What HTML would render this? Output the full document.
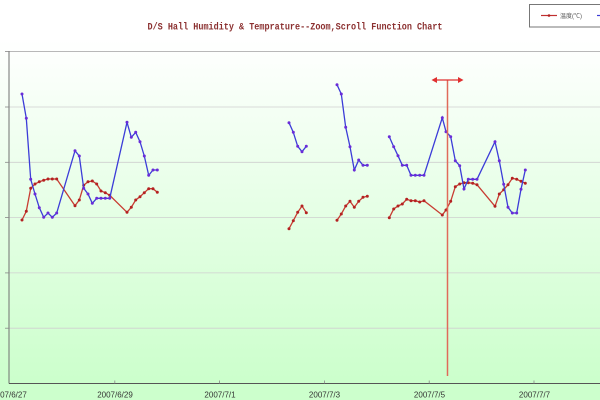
<!DOCTYPE html>
<html><head><meta charset="utf-8"><style>
html,body{margin:0;padding:0;width:600px;height:400px;overflow:hidden;background:#fff}
svg{display:block}
</style></head><body>
<svg width="600" height="400" viewBox="0 0 600 400" xmlns="http://www.w3.org/2000/svg">
<defs>
<linearGradient id="bg" x1="0" y1="0" x2="0" y2="400" gradientUnits="userSpaceOnUse">
<stop offset="0.1" stop-color="#ffffff"/>
<stop offset="0.95" stop-color="#ccffcc"/>
<stop offset="1" stop-color="#ccffcc"/>
</linearGradient>
</defs>
<rect x="0" y="0" width="600" height="400" fill="url(#bg)"/>
<!-- title -->
<text x="147.5" y="29.5" font-family="Liberation Mono, monospace" font-weight="bold" font-size="10.5" fill="#8b3030" textLength="295" lengthAdjust="spacingAndGlyphs">D/S Hall Humidity &amp; Temprature--Zoom,Scroll Function Chart</text>
<!-- legend -->
<rect x="529.5" y="4.5" width="80" height="22.5" fill="#fff" stroke="#777" stroke-width="1"/>
<line x1="541" y1="15.5" x2="557" y2="15.5" stroke="#c03030" stroke-width="1.2"/>
<circle cx="549" cy="15.5" r="1.3" fill="#b02020"/>
<text x="560" y="18" font-family="Liberation Sans, 'Noto Sans CJK SC', sans-serif" font-size="6" fill="#555">温度(℃)</text>
<line x1="597" y1="15.5" x2="600" y2="15.5" stroke="#3b3bd6" stroke-width="1.2"/>
<!-- grid -->
<line x1="9" y1="51.5" x2="600" y2="51.5" stroke="#b8b8b8" stroke-width="1"/>
<g stroke="#cfcfcf" stroke-width="0.8">
<line x1="9" y1="107" x2="600" y2="107"/>
<line x1="9" y1="162.3" x2="600" y2="162.3"/>
<line x1="9" y1="217.6" x2="600" y2="217.6"/>
<line x1="9" y1="272.9" x2="600" y2="272.9"/>
<line x1="9" y1="328.2" x2="600" y2="328.2"/>
</g>
<!-- axes -->
<line x1="9" y1="51" x2="9" y2="383.5" stroke="#707070" stroke-width="1"/>
<line x1="9" y1="383.5" x2="600" y2="383.5" stroke="#555" stroke-width="1"/>
<g stroke="#888" stroke-width="0.8">
<line x1="5" y1="51.5" x2="9" y2="51.5"/><line x1="5" y1="107" x2="9" y2="107"/><line x1="5" y1="162.3" x2="9" y2="162.3"/><line x1="5" y1="217.6" x2="9" y2="217.6"/><line x1="5" y1="272.9" x2="9" y2="272.9"/><line x1="5" y1="328.2" x2="9" y2="328.2"/>
<line x1="114.8" y1="380.5" x2="114.8" y2="383.5"/><line x1="219.6" y1="380.5" x2="219.6" y2="383.5"/><line x1="324.4" y1="380.5" x2="324.4" y2="383.5"/><line x1="429.2" y1="380.5" x2="429.2" y2="383.5"/><line x1="534" y1="380.5" x2="534" y2="383.5"/>
</g>
<g font-family="Liberation Sans, sans-serif" font-size="8" fill="#333" text-anchor="middle">
<text x="9" y="397.5">2007/6/27</text>
<text x="115" y="397.5">2007/6/29</text>
<text x="220" y="397.5">2007/7/1</text>
<text x="324.5" y="397.5">2007/7/3</text>
<text x="429.5" y="397.5">2007/7/5</text>
<text x="534.5" y="397.5">2007/7/7</text>
</g>
<!-- red series -->
<g fill="none" stroke="#c83c32" stroke-width="1.3">
<polyline points="22,220 26.3,211.3 30.7,188.3 35,184 39.3,181.7 43.7,180.3 48,179 52.3,179 56.7,179 75,205.7 79.3,200 83.7,185.3 88,181.7 92.3,181 96.7,184 101,191 105.3,192.7 109.7,195.3 127,212.3 131.3,207.3 135.7,200 140,196.7 144.3,192.7 148.7,188.7 153,188.7 157.3,192.3"/>
<polyline points="289,228.7 293.3,220.7 297.7,212.3 302,206 306.3,212.7"/>
<polyline points="337,220.3 341.3,214 345.7,206 350,201.3 354.3,207.3 358.7,201.3 363,197.3 367.3,196.3"/>
<polyline points="389.3,217.7 393.7,209 398,206 402.3,204 406.7,199.3 411,200.7 415.3,200.7 419.7,202 424,200.7 442.3,215 446,210 450.7,201.3 455.3,186.7 459.7,184 464,182.7 468.3,182.7 472.7,183.3 477,184.7 495,206.3 499.3,194 503.7,189.7 508,184.7 512.3,178.3 516.7,179.3 521,181.3 525.3,183.3"/>
</g>
<g fill="#b42222">
<circle cx="22" cy="220" r="1.5"/><circle cx="26.3" cy="211.3" r="1.5"/><circle cx="30.7" cy="188.3" r="1.5"/><circle cx="35" cy="184" r="1.5"/><circle cx="39.3" cy="181.7" r="1.5"/><circle cx="43.7" cy="180.3" r="1.5"/><circle cx="48" cy="179" r="1.5"/><circle cx="52.3" cy="179" r="1.5"/><circle cx="56.7" cy="179" r="1.5"/><circle cx="75" cy="205.7" r="1.5"/><circle cx="79.3" cy="200" r="1.5"/><circle cx="83.7" cy="185.3" r="1.5"/><circle cx="88" cy="181.7" r="1.5"/><circle cx="92.3" cy="181" r="1.5"/><circle cx="96.7" cy="184" r="1.5"/><circle cx="101" cy="191" r="1.5"/><circle cx="105.3" cy="192.7" r="1.5"/><circle cx="109.7" cy="195.3" r="1.5"/><circle cx="127" cy="212.3" r="1.5"/><circle cx="131.3" cy="207.3" r="1.5"/><circle cx="135.7" cy="200" r="1.5"/><circle cx="140" cy="196.7" r="1.5"/><circle cx="144.3" cy="192.7" r="1.5"/><circle cx="148.7" cy="188.7" r="1.5"/><circle cx="153" cy="188.7" r="1.5"/><circle cx="157.3" cy="192.3" r="1.5"/>
<circle cx="289" cy="228.7" r="1.5"/><circle cx="293.3" cy="220.7" r="1.5"/><circle cx="297.7" cy="212.3" r="1.5"/><circle cx="302" cy="206" r="1.5"/><circle cx="306.3" cy="212.7" r="1.5"/>
<circle cx="337" cy="220.3" r="1.5"/><circle cx="341.3" cy="214" r="1.5"/><circle cx="345.7" cy="206" r="1.5"/><circle cx="350" cy="201.3" r="1.5"/><circle cx="354.3" cy="207.3" r="1.5"/><circle cx="358.7" cy="201.3" r="1.5"/><circle cx="363" cy="197.3" r="1.5"/><circle cx="367.3" cy="196.3" r="1.5"/>
<circle cx="389.3" cy="217.7" r="1.5"/><circle cx="393.7" cy="209" r="1.5"/><circle cx="398" cy="206" r="1.5"/><circle cx="402.3" cy="204" r="1.5"/><circle cx="406.7" cy="199.3" r="1.5"/><circle cx="411" cy="200.7" r="1.5"/><circle cx="415.3" cy="200.7" r="1.5"/><circle cx="419.7" cy="202" r="1.5"/><circle cx="424" cy="200.7" r="1.5"/><circle cx="442.3" cy="215" r="1.5"/><circle cx="446" cy="210" r="1.5"/><circle cx="450.7" cy="201.3" r="1.5"/><circle cx="455.3" cy="186.7" r="1.5"/><circle cx="459.7" cy="184" r="1.5"/><circle cx="464" cy="182.7" r="1.5"/><circle cx="468.3" cy="182.7" r="1.5"/><circle cx="472.7" cy="183.3" r="1.5"/><circle cx="477" cy="184.7" r="1.5"/><circle cx="495" cy="206.3" r="1.5"/><circle cx="499.3" cy="194" r="1.5"/><circle cx="503.7" cy="189.7" r="1.5"/><circle cx="508" cy="184.7" r="1.5"/><circle cx="512.3" cy="178.3" r="1.5"/><circle cx="516.7" cy="179.3" r="1.5"/><circle cx="521" cy="181.3" r="1.5"/><circle cx="525.3" cy="183.3" r="1.5"/>
</g>
<!-- blue series -->
<g fill="none" stroke="#3c3cd8" stroke-width="1.3">
<polyline points="22,94 26.3,118.3 30.7,179.3 35,194 39.3,207.7 43.7,217.3 48,213 52.3,217.3 56.7,213 75,150.7 79.3,156 83.7,188.3 88,194 92.3,203.3 96.7,198.3 101,198.3 105.3,198.3 109.7,198.3 127,122.3 131.3,137.3 135.7,132.3 140,141.7 144.3,156 148.7,175.3 153,170 157.3,170"/>
<polyline points="289,122.7 293.3,132.3 297.7,146.3 302,151.7 306.3,146.3"/>
<polyline points="337,84.7 341.3,94 345.7,127.3 350,146.7 354.3,170 358.7,160 363,165.3 367.3,165.3"/>
<polyline points="389.3,136.7 393.7,146.7 398,155.7 402.3,165.3 406.7,165.3 411,175.3 415.3,175.3 419.7,175.3 424,175.3 442.3,117.7 446,131.7 450.7,136.7 455.3,160.7 459.7,165.7 464,189 468.3,179.3 472.7,179.3 477,179.3 495,141.7 499.3,160.7 503.7,184.3 508,207.3 512.3,213 516.7,213 521,189.3 525.3,170"/>
</g>
<g fill="#6a2cd8">
<circle cx="22" cy="94" r="1.5"/><circle cx="26.3" cy="118.3" r="1.5"/><circle cx="30.7" cy="179.3" r="1.5"/><circle cx="35" cy="194" r="1.5"/><circle cx="39.3" cy="207.7" r="1.5"/><circle cx="43.7" cy="217.3" r="1.5"/><circle cx="48" cy="213" r="1.5"/><circle cx="52.3" cy="217.3" r="1.5"/><circle cx="56.7" cy="213" r="1.5"/><circle cx="75" cy="150.7" r="1.5"/><circle cx="79.3" cy="156" r="1.5"/><circle cx="83.7" cy="188.3" r="1.5"/><circle cx="88" cy="194" r="1.5"/><circle cx="92.3" cy="203.3" r="1.5"/><circle cx="96.7" cy="198.3" r="1.5"/><circle cx="101" cy="198.3" r="1.5"/><circle cx="105.3" cy="198.3" r="1.5"/><circle cx="109.7" cy="198.3" r="1.5"/><circle cx="127" cy="122.3" r="1.5"/><circle cx="131.3" cy="137.3" r="1.5"/><circle cx="135.7" cy="132.3" r="1.5"/><circle cx="140" cy="141.7" r="1.5"/><circle cx="144.3" cy="156" r="1.5"/><circle cx="148.7" cy="175.3" r="1.5"/><circle cx="153" cy="170" r="1.5"/><circle cx="157.3" cy="170" r="1.5"/>
<circle cx="289" cy="122.7" r="1.5"/><circle cx="293.3" cy="132.3" r="1.5"/><circle cx="297.7" cy="146.3" r="1.5"/><circle cx="302" cy="151.7" r="1.5"/><circle cx="306.3" cy="146.3" r="1.5"/>
<circle cx="337" cy="84.7" r="1.5"/><circle cx="341.3" cy="94" r="1.5"/><circle cx="345.7" cy="127.3" r="1.5"/><circle cx="350" cy="146.7" r="1.5"/><circle cx="354.3" cy="170" r="1.5"/><circle cx="358.7" cy="160" r="1.5"/><circle cx="363" cy="165.3" r="1.5"/><circle cx="367.3" cy="165.3" r="1.5"/>
<circle cx="389.3" cy="136.7" r="1.5"/><circle cx="393.7" cy="146.7" r="1.5"/><circle cx="398" cy="155.7" r="1.5"/><circle cx="402.3" cy="165.3" r="1.5"/><circle cx="406.7" cy="165.3" r="1.5"/><circle cx="411" cy="175.3" r="1.5"/><circle cx="415.3" cy="175.3" r="1.5"/><circle cx="419.7" cy="175.3" r="1.5"/><circle cx="424" cy="175.3" r="1.5"/><circle cx="442.3" cy="117.7" r="1.5"/><circle cx="446" cy="131.7" r="1.5"/><circle cx="450.7" cy="136.7" r="1.5"/><circle cx="455.3" cy="160.7" r="1.5"/><circle cx="459.7" cy="165.7" r="1.5"/><circle cx="464" cy="189" r="1.5"/><circle cx="468.3" cy="179.3" r="1.5"/><circle cx="472.7" cy="179.3" r="1.5"/><circle cx="477" cy="179.3" r="1.5"/><circle cx="495" cy="141.7" r="1.5"/><circle cx="499.3" cy="160.7" r="1.5"/><circle cx="503.7" cy="184.3" r="1.5"/><circle cx="508" cy="207.3" r="1.5"/><circle cx="512.3" cy="213" r="1.5"/><circle cx="516.7" cy="213" r="1.5"/><circle cx="521" cy="189.3" r="1.5"/><circle cx="525.3" cy="170" r="1.5"/>
</g>
<!-- scroll cursor -->
<line x1="447.5" y1="80" x2="447.5" y2="376" stroke="#e06a5a" stroke-width="1.5"/>
<line x1="435" y1="80" x2="460" y2="80" stroke="#e03030" stroke-width="1.3"/>
<polygon points="431.5,80 437,77 437,83" fill="#e03030"/>
<polygon points="463.5,80 458,77 458,83" fill="#e03030"/>
</svg>
</body></html>
